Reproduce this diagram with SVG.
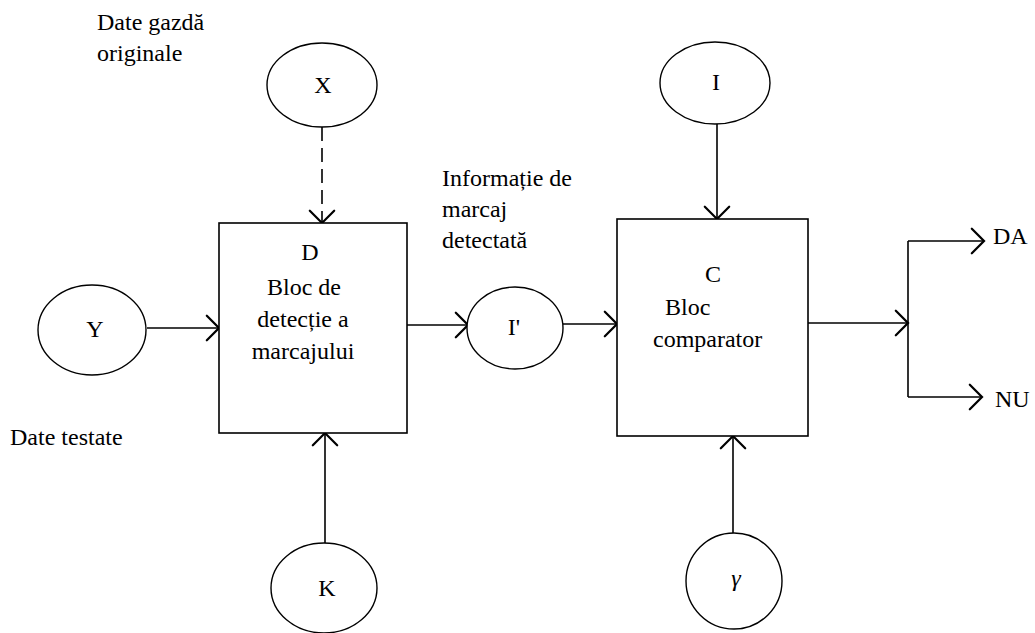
<svg xmlns="http://www.w3.org/2000/svg" width="1035" height="633" viewBox="0 0 1035 633">
  <style>
    text { font-family: "Liberation Serif", "Times New Roman", serif; font-size: 24px; fill: #000; }
    .mid { text-anchor: middle; }
    .box { fill: #fff; stroke: #000; stroke-width: 1.6; }
    .oval { fill: #fff; stroke: #000; stroke-width: 1.4; }
    .wire { fill: none; stroke: #000; stroke-width: 1.6; }
    .dash { stroke-dasharray: 14 7; }
  </style>
  <defs>
    <marker id="arrow" markerUnits="userSpaceOnUse" markerWidth="30" markerHeight="30" viewBox="-16 -16 20 32" refX="0" refY="0" orient="auto">
      <path d="M -13 -13 L 0 0 L -13 13" fill="none" stroke="#000" stroke-width="2.4" stroke-linecap="round" stroke-linejoin="miter"/>
    </marker>
  </defs>
  <rect width="1035" height="633" fill="#fff"/>

  <!-- free labels -->
  <text x="97" y="30">Date gazdă</text>
  <text x="97" y="61">originale</text>
  <text x="10" y="445">Date testate</text>
  <text x="442" y="186">Informație de</text>
  <text x="442" y="217">marcaj</text>
  <text x="442" y="248">detectată</text>

  <!-- connectors -->
  <g id="connectors">
    <line class="wire dash" x1="322" y1="127" x2="322" y2="223" marker-end="url(#arrow)"/>
    <line class="wire" x1="147" y1="328" x2="219" y2="328" marker-end="url(#arrow)"/>
    <line class="wire" x1="325" y1="543" x2="325" y2="433" marker-end="url(#arrow)"/>
    <line class="wire" x1="407" y1="325" x2="468" y2="325" marker-end="url(#arrow)"/>
    <line class="wire" x1="563" y1="324" x2="617" y2="324" marker-end="url(#arrow)"/>
    <line class="wire" x1="717" y1="124" x2="717" y2="219" marker-end="url(#arrow)"/>
    <line class="wire" x1="733" y1="533" x2="733" y2="436" marker-end="url(#arrow)"/>
    <line class="wire" x1="808" y1="323" x2="908" y2="323" marker-end="url(#arrow)"/>
    <line class="wire" x1="908" y1="241" x2="908" y2="397"/>
    <line class="wire" x1="908" y1="241" x2="984" y2="241" marker-end="url(#arrow)"/>
    <line class="wire" x1="908" y1="397" x2="982" y2="397" marker-end="url(#arrow)"/>
  </g>

  <!-- blocks -->
  <g id="block-D">
    <rect class="box" x="219" y="223" width="188" height="210"/>
    <text class="mid" x="310" y="260">D</text>
    <text class="mid" x="304" y="295">Bloc de</text>
    <text class="mid" x="303" y="327">detecție a</text>
    <text class="mid" x="303" y="359">marcajului</text>
  </g>
  <g id="block-C">
    <rect class="box" x="617" y="219" width="191" height="217"/>
    <text class="mid" x="713" y="282">C</text>
    <text x="665" y="315">Bloc</text>
    <text x="653" y="347">comparator</text>
  </g>

  <!-- data nodes -->
  <g id="node-X">
    <ellipse class="oval" cx="322" cy="85" rx="55" ry="42"/>
    <text class="mid" x="323" y="93">X</text>
  </g>
  <g id="node-Y">
    <ellipse class="oval" cx="92" cy="330" rx="54" ry="45"/>
    <text class="mid" x="95" y="337">Y</text>
  </g>
  <g id="node-K">
    <ellipse class="oval" cx="324" cy="588" rx="53" ry="45"/>
    <text class="mid" x="327" y="596">K</text>
  </g>
  <g id="node-Iprime">
    <ellipse class="oval" cx="515" cy="328" rx="48" ry="41"/>
    <text class="mid" x="514" y="335">I'</text>
  </g>
  <g id="node-I">
    <ellipse class="oval" cx="715" cy="83" rx="55" ry="41"/>
    <text class="mid" x="716" y="90">I</text>
  </g>
  <g id="node-gamma">
    <ellipse class="oval" cx="734" cy="581" rx="48" ry="48"/>
    <text class="mid" x="736" y="586" style="font-size:24px; font-style:italic">γ</text>
  </g>

  <!-- outputs -->
  <text x="993" y="244">DA</text>
  <text x="995" y="407">NU</text>
</svg>
